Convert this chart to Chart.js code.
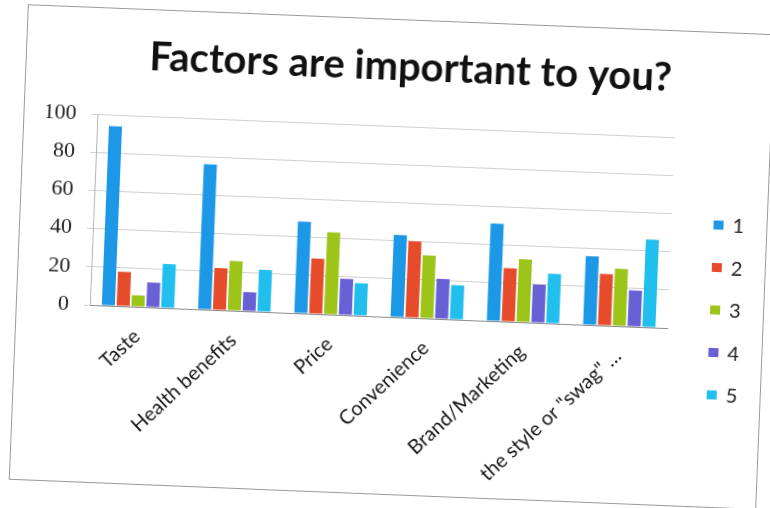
<!DOCTYPE html>
<html>
<head>
<meta charset="utf-8">
<script src="https://cdn.jsdelivr.net/npm/chart.js@4/dist/chart.umd.min.js"></script>
<style>
  html, body { margin: 0; padding: 0; background: #fff; }
  body { width: 770px; height: 508px; overflow: hidden; position: relative; }
  .frame {
    position: absolute; left: 18px; top: 19px;
    width: 748px; height: 476px; box-sizing: border-box;
    border: 1px solid #9a9a9a; background: #fff;
    transform: rotate(2.3deg);
  }
  canvas { display: block; }
</style>
</head>
<body>
<div class="frame"><canvas id="chart" width="746" height="474"></canvas></div>
<script>
const categories = ['Taste', 'Health benefits', 'Price', 'Convenience', 'Brand/Marketing', 'the style or "swag" \u2026'];
const seriesNames = ['1', '2', '3', '4', '5'];
const series1 = [94, 76, 48, 43, 51, 36];
const series2 = [18, 22, 29, 40, 28, 27];
const series3 = [6, 26, 43, 33, 33, 30];
const series4 = [13, 10, 19, 21, 20, 19];
const series5 = [23, 22, 17, 18, 26, 46];
const yTicks = [0, 20, 40, 60, 80, 100];

const colors = ['#1c98e6', '#e64b2b', '#9cc419', '#6a60d6', '#20bfee'];
const allSeries = [series1, series2, series3, series4, series5];

// legend drawn by hand so it can sit lower than chart.js would put it
const sideLegend = {
  id: 'sideLegend',
  afterDraw(chart) {
    const ctx = chart.ctx;
    const area = chart.chartArea;
    ctx.save();
    ctx.font = '20px Lato';
    ctx.textBaseline = 'middle';
    chart.data.datasets.forEach((ds, i) => {
      const x = area.right + 42;
      const y = area.top + 86 + i * 42.5;
      ctx.fillStyle = ds.backgroundColor;
      ctx.fillRect(x, y - 4.5, 10, 9);
      ctx.fillStyle = '#222';
      ctx.fillText(ds.label, x + 19, y + 1);
    });
    ctx.restore();
  }
};

new Chart(document.getElementById('chart'), {
  type: 'bar',
  data: {
    labels: categories,
    datasets: allSeries.map((vals, i) => ({
      label: seriesNames[i],
      data: vals,
      backgroundColor: colors[i],
      categoryPercentage: 0.77,
      barPercentage: 0.88
    }))
  },
  options: {
    responsive: false,
    animation: false,
    layout: { padding: { left: 22, right: 0, top: 0, bottom: 0 } },
    plugins: {
      legend: { display: false },
      tooltip: { enabled: false },
      title: {
        display: true,
        text: 'Factors are important to you?',
        font: { family: 'Lato', size: 40, weight: 'bold' },
        color: '#111',
        padding: { top: 23, bottom: 35 }
      }
    },
    scales: {
      x: {
        afterFit: s => { s.height = 177; },
        grid: { display: false },
        border: { color: '#8c8c8c' },
        ticks: {
          minRotation: 45, maxRotation: 45,
          font: { family: 'Lato', size: 20 },
          color: '#151515',
          padding: 10
        }
      },
      y: {
        min: 0, max: 100,
        afterFit: s => { s.width = 51; },
        afterBuildTicks: s => { s.ticks = yTicks.map(v => ({ value: v })); },
        grid: { color: '#cfcfcf', tickLength: 6 },
        border: { color: '#b5b5b5' },
        ticks: {
          font: { family: 'Liberation Serif', size: 22 },
          color: '#222',
          padding: 15
        }
      },
      // empty axis on the right just to leave room for the legend
      side: {
        type: 'linear',
        position: 'right',
        afterFit: s => { s.width = 95; },
        grid: { display: false },
        border: { display: false },
        ticks: { display: false }
      }
    }
  },
  plugins: [sideLegend]
});
</script>
</body>
</html>
